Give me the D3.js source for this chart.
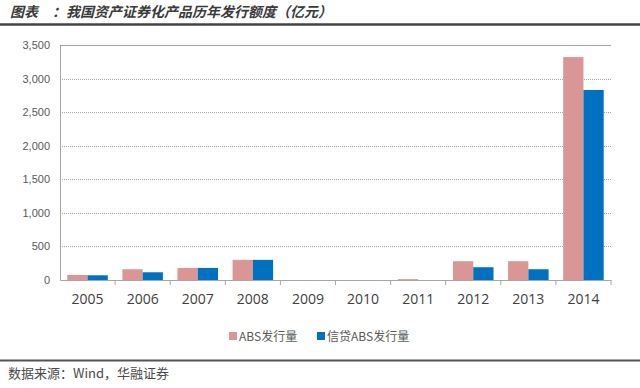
<!DOCTYPE html>
<html>
<head>
<meta charset="utf-8">
<script src="https://cdn.jsdelivr.net/npm/d3@7"></script>
<style>
body{margin:0;background:#fff;}
svg{display:block;font-family:"Noto Sans CJK SC","Noto Sans",sans-serif;}
.yAxis text{font-size:11px;fill:#595959;font-family:"Liberation Sans",Arial,sans-serif;}
.xAxis text{font-size:14px;fill:#404040;font-family:"Open Sans","Liberation Sans",sans-serif;}
</style>
</head>
<body>
<svg id="chart"></svg>
<script>
var years=["2005","2006","2007","2008","2009","2010","2011","2012","2013","2014"];
var absValues=[75,160,180,300,0,0,13,280,280,3320];
var loanAbsValues=[70,115,180,300,0,0,0,190,160,2830];
var seriesNames=["ABS发行量","信贷ABS发行量"];
var yTicks=[0,500,1000,1500,2000,2500,3000,3500];
var colors=["#d99694","#0070c0"];

var w=640,h=388;
var margin={left:60,right:29,top:45,bottom:108};
var svg=d3.select("#chart").attr("width",w).attr("height",h);

var xScale=d3.scaleBand()
  .domain(years)
  .range([margin.left,w-margin.right]);
var yScale=d3.scaleLinear()
  .domain([0,3500])
  .range([h-margin.bottom,margin.top]);
var inner=d3.scaleBand()
  .domain(seriesNames)
  .range([0,xScale.bandwidth()])
  .paddingInner(0)
  .paddingOuter(0.36);

// title
svg.append("text")
  .attr("x",10).attr("y",17)
  .attr("font-size",14).attr("font-weight","bold").attr("font-style","italic")
  .attr("fill","#3a3a3a")
  .text("图表　：我国资产证券化产品历年发行额度（亿元）");
svg.append("line")
  .attr("x1",0).attr("x2",w).attr("y1",24.5).attr("y2",24.5)
  .attr("stroke","#444").attr("stroke-width",2.5);

// gridlines
svg.append("g")
  .selectAll("line")
  .data(yTicks.filter(function(d){return d>0;}))
  .enter().append("line")
  .attr("x1",margin.left).attr("x2",w-margin.right)
  .attr("y1",function(d){return Math.round(yScale(d))+0.5;})
  .attr("y2",function(d){return Math.round(yScale(d))+0.5;})
  .attr("stroke","#a6a6a6")
  .attr("stroke-dasharray",function(d){return d==3500?null:"1,1";});

// bars
var series=[absValues,loanAbsValues];
series.forEach(function(vals,i){
  svg.append("g")
    .selectAll("rect")
    .data(vals)
    .enter().append("rect")
    .attr("x",function(d,j){return xScale(years[j])+inner(seriesNames[i]);})
    .attr("width",inner.bandwidth())
    .attr("y",function(d){return yScale(d);})
    .attr("height",function(d){return yScale(0)-yScale(d);})
    .attr("fill",colors[i]);
});

// axes
var yAxis=d3.axisLeft(yScale)
  .tickValues(yTicks)
  .tickFormat(d3.format(","))
  .tickSize(0)
  .tickPadding(10);
var gy=svg.append("g")
  .classed("yAxis",true)
  .attr("transform","translate("+margin.left+",0)")
  .call(yAxis);
gy.select(".domain").attr("stroke","#a6a6a6");

var xAxis=d3.axisBottom(xScale)
  .tickSize(0)
  .tickPadding(14);
var gx=svg.append("g")
  .classed("xAxis",true)
  .attr("transform","translate(0,"+yScale(0)+")")
  .call(xAxis);
gx.select(".domain").attr("stroke","#a6a6a6");
gx.selectAll(".sep")
  .data(years)
  .enter().append("line")
  .attr("x1",function(d){return xScale(d)+xScale.bandwidth();})
  .attr("x2",function(d){return xScale(d)+xScale.bandwidth();})
  .attr("y1",0).attr("y2",5)
  .attr("stroke","#a6a6a6");

// legend
var legend=svg.append("g").attr("transform","translate(229,336)");
var lx=[0,88];
seriesNames.forEach(function(name,i){
  legend.append("rect")
    .attr("x",lx[i]).attr("y",-4).attr("width",8).attr("height",8)
    .attr("fill",colors[i]);
  legend.append("text")
    .attr("x",lx[i]+10).attr("y",4.5)
    .attr("font-size",12).attr("fill","#595959")
    .text(name);
});

// source
svg.append("line")
  .attr("x1",0).attr("x2",w).attr("y1",360.5).attr("y2",360.5)
  .attr("stroke","#555").attr("stroke-width",2);
svg.append("text")
  .attr("x",8).attr("y",378)
  .attr("font-size",13).attr("fill","#4a4a4a")
  .text("数据来源：Wind，华融证券");
</script>
</body>
</html>
